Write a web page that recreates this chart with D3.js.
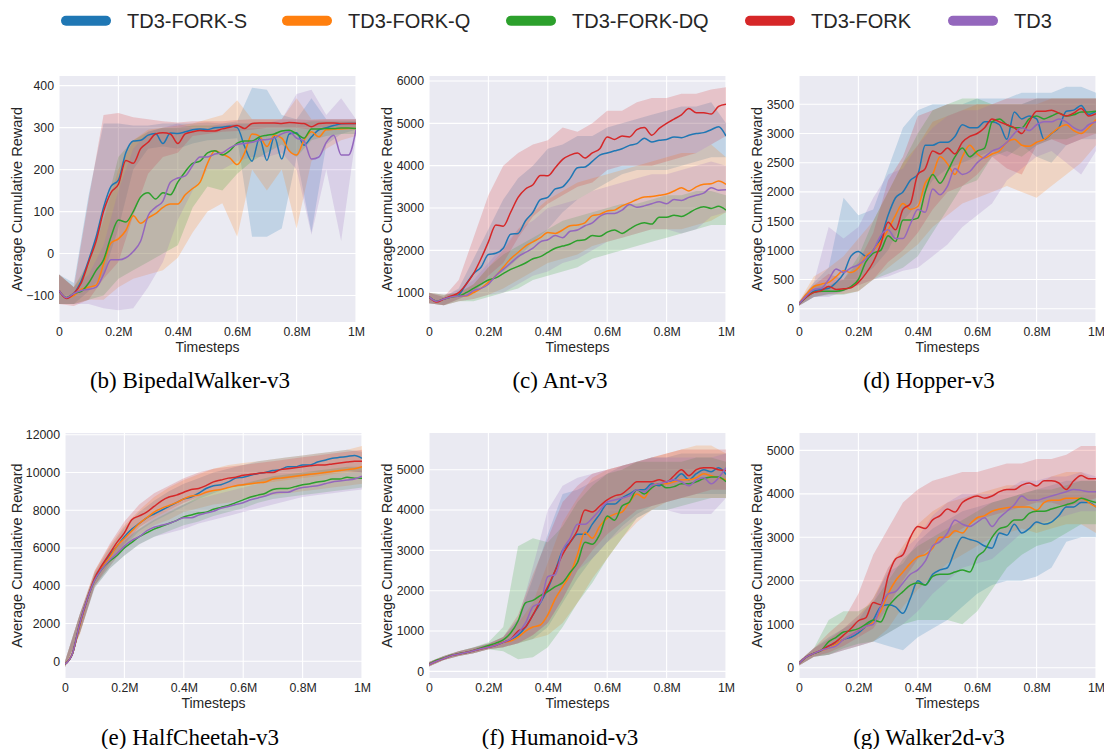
<!DOCTYPE html>
<html>
<head>
<meta charset="utf-8">
<script src="https://cdn.jsdelivr.net/npm/d3@7"></script>
<style>
  body { margin: 0; background: #fff; }
  svg { display: block; }
</style>
</head>
<body>
<svg id="chart" width="1104" height="749"></svg>
<script>
// legend order: TD3-FORK-S, TD3-FORK-Q, TD3-FORK-DQ, TD3-FORK, TD3
const seriesNames = ['TD3-FORK-S', 'TD3-FORK-Q', 'TD3-FORK-DQ', 'TD3-FORK', 'TD3'];
const seriesColors = ['#1f77b4', '#ff7f0e', '#2ca02c', '#d62728', '#9467bd'];

// sample points (in millions of timesteps)
const meanT = [0, 0.025, 0.05, 0.075, 0.1, 0.125, 0.15, 0.175, 0.2, 0.225, 0.25, 0.275, 0.3, 0.325, 0.35, 0.375, 0.4,
  0.425, 0.45, 0.475, 0.5, 0.525, 0.55, 0.575, 0.6, 0.625, 0.65, 0.675, 0.7, 0.725, 0.75, 0.775, 0.8, 0.825, 0.85,
  0.875, 0.9, 0.925, 0.95, 0.975, 1];
const bandT = [0, 0.05, 0.1, 0.15, 0.2, 0.25, 0.3, 0.35, 0.4, 0.45, 0.5, 0.55, 0.6, 0.65, 0.7, 0.75, 0.8, 0.85, 0.9, 0.95, 1];
const xTicks = [0, 0.2, 0.4, 0.6, 0.8, 1];
const xTickLabels = ['0', '0.2M', '0.4M', '0.6M', '0.8M', '1M'];

// BipedalWalker-v3
const bipedalMean = [
  [-90,-105,-95,-65,-15,40,110,160,175,240,268,270,282,286,262,287,286,290,295,297,295,300,301,303,300,255,220,275,222,278,225,285,288,258,278,295,300,305,309,310,310],
  [-88,-105,-100,-85,-80,-75,-25,25,35,55,90,72,85,95,110,118,118,140,155,170,215,245,237,228,212,240,285,280,255,282,275,245,235,270,290,278,295,296,297,298,298],
  [-88,-105,-95,-90,-70,-40,-15,40,80,75,100,135,145,130,145,140,170,195,215,220,240,245,235,245,263,268,268,278,282,285,292,294,285,275,297,297,298,298,299,299,298],
  [-88,-107,-95,-70,-20,30,100,145,165,222,215,250,265,285,288,285,262,285,290,293,292,292,297,301,305,298,310,311,311,311,310,312,311,310,302,310,311,311,310,310,310],
  [-88,-105,-95,-88,-85,-80,-50,-15,-15,-10,5,30,90,110,125,170,180,185,210,230,230,237,240,252,260,262,265,270,272,275,285,290,275,268,225,230,265,282,235,235,295]
];
const bipedalLo = [
  [-120,-120,-90,-50,60,200,250,255,250,262,270,272,275,40,40,60,230,50,260,285,295],
  [-120,-120,-110,-110,-80,-60,-50,-40,-10,50,100,120,40,200,150,200,60,220,250,270,280],
  [-120,-120,-110,-100,-60,-40,-20,0,20,110,160,150,190,220,240,260,230,270,280,285,285],
  [-120,-125,-110,-60,-20,90,190,230,240,280,285,290,292,295,300,300,300,295,300,300,300],
  [-120,-120,-120,-130,-135,-130,-80,-20,80,150,200,200,220,230,230,240,200,45,200,30,280]
];
const bipedalHi = [
  [-50,-70,140,310,310,305,305,310,310,310,312,310,315,395,390,330,320,370,320,320,320],
  [-50,-80,-30,80,200,270,295,300,305,310,320,330,365,320,320,320,370,320,320,320,320],
  [-50,-80,-20,90,230,270,290,300,300,305,305,305,310,310,310,310,310,315,315,315,315],
  [-50,-80,130,330,335,325,320,315,312,315,315,315,318,320,320,320,320,318,320,320,320],
  [-50,-80,-50,20,150,250,290,300,310,300,300,310,310,310,310,320,380,390,330,370,320]
];

// Ant-v3
const antMean = [
  [900,800,850,900,950,1200,1450,1600,1900,1930,2050,2380,2400,2700,2900,3200,3250,3450,3500,3700,3950,3970,4100,4250,4300,4350,4400,4480,4520,4650,4560,4600,4620,4680,4660,4720,4760,4780,4850,4920,4700],
  [900,800,850,900,920,920,1000,1100,1250,1400,1600,1800,1950,2100,2200,2300,2420,2400,2480,2580,2600,2650,2820,2850,2930,2950,3050,3120,3200,3260,3270,3300,3330,3400,3480,3400,3500,3560,3570,3640,3560],
  [900,800,850,900,920,1000,1100,1200,1300,1350,1450,1550,1620,1700,1800,1850,1950,2050,2100,2150,2230,2250,2350,2330,2430,2480,2400,2500,2600,2650,2620,2780,2780,2830,2800,2880,2980,3030,2990,3040,2950],
  [900,780,850,920,1000,1200,1450,1800,2200,2600,2570,2900,3250,3450,3550,3770,3760,3950,4150,4250,4300,4180,4300,4400,4680,4620,4700,4680,4850,4900,4720,4880,5000,5100,5200,5350,5250,5250,5220,5400,5450],
  [900,800,850,900,920,930,1050,1100,1200,1400,1550,1700,1850,1950,2050,2200,2250,2350,2300,2450,2480,2580,2650,2800,2870,2870,2950,3080,3020,3050,3100,3150,3100,3200,3180,3250,3300,3350,3480,3420,3430]
];
const antLo = [
  [750,700,850,1000,1300,1500,1800,2200,2500,2900,3200,3400,3600,3800,3900,3900,3900,4000,4100,4200,4200],
  [750,700,800,850,950,1100,1300,1500,1700,1800,1900,2100,2200,2300,2400,2500,2500,2500,2600,2700,2900],
  [750,700,800,800,900,1000,1100,1300,1400,1500,1600,1800,1900,2000,2100,2200,2300,2400,2500,2600,2600],
  [750,700,850,1000,1400,1700,2300,2800,3100,3300,3500,3600,3900,4000,4000,4000,4100,4200,4300,4500,4700],
  [750,700,800,850,950,1000,1200,1400,1500,1700,1800,2000,2200,2300,2400,2500,2500,2400,2500,2800,2900]
];
const antHi = [
  [1000,900,1100,1800,2500,3200,3700,4000,4400,4500,4700,4700,4900,5000,5100,5200,5300,5400,5400,5500,5000],
  [1000,950,1000,1200,1600,2000,2500,2900,3200,3400,3600,3700,3800,3900,4000,4100,4200,4300,4300,4500,4200],
  [1000,950,1000,1200,1600,1900,2100,2300,2500,2700,2800,2900,3000,3100,3100,3200,3300,3300,3400,3400,3300],
  [1000,900,1300,2300,3300,4000,4300,4500,4600,4900,4800,5000,5300,5300,5500,5600,5600,5700,5700,5800,5850],
  [1000,950,1050,1300,1700,2100,2500,2700,3000,3100,3200,3400,3500,3600,3700,3800,3800,3900,4000,4100,4000]
];

// Hopper-v3
const hopperMean = [
  [80,200,300,330,350,450,600,900,980,900,1000,1200,1600,1900,2000,2200,2300,2800,2800,2850,2850,2950,3150,3100,3100,3200,3200,3150,2900,3370,3250,3300,3250,2900,3000,3100,3380,3400,3480,3330,3380],
  [80,250,380,420,450,550,650,620,700,900,1000,1150,1350,1600,1800,1700,1750,2150,2300,2600,2480,2300,2600,2800,2650,2580,2650,2700,2850,2900,2800,2780,2850,2900,3000,3100,3150,3050,3000,3100,3240],
  [80,200,280,300,300,300,320,380,500,800,950,1000,1250,1150,1520,1520,1550,2000,2300,2150,2350,2600,2750,2600,2700,2750,3200,3250,3150,3100,3100,3250,3300,3250,3300,3350,3300,3320,3370,3370,3380],
  [80,200,280,310,380,330,340,360,450,600,800,1100,1480,1350,1700,1800,2300,2400,2700,2650,2750,2650,2850,2950,3000,3100,3250,3200,3150,3100,3000,3200,3380,3380,3400,3350,3300,3350,3430,3300,3340],
  [80,220,330,350,500,680,620,700,750,850,1000,1250,1350,1200,1200,1450,1700,1650,2050,1950,2100,2400,2300,2350,2500,2600,2700,2750,2850,3000,3100,3050,3150,3200,3200,3250,3200,3100,3050,3150,3200]
];
const hopperLo = [
  [50,200,250,300,500,700,1000,1500,1800,2200,2400,2500,2600,2700,2600,2800,2600,2500,2800,2900,2900],
  [50,250,300,350,400,500,700,900,1100,1400,1600,1800,1900,2000,2100,2000,1900,2100,2300,2500,2800],
  [50,200,230,240,300,500,600,700,900,1300,1700,2100,2200,2600,2700,2600,2800,2900,2900,3000,3000],
  [50,200,250,250,300,500,800,1000,1300,1700,2000,2100,2300,2600,2400,2300,2800,2900,2800,2900,3000],
  [50,200,200,300,400,500,550,650,700,900,1100,1400,1600,1800,2200,2400,2600,2700,2500,2300,2700]
];
const hopperHi = [
  [120,450,700,1900,1600,1700,2400,3100,3400,3500,3500,3500,3600,3600,3600,3700,3700,3700,3800,3800,3700],
  [120,550,700,900,1200,1500,2000,2500,2800,3200,3300,3400,3500,3500,3500,3500,3500,3600,3600,3600,3600],
  [120,400,400,500,900,1500,2000,2500,3000,3400,3500,3600,3600,3500,3500,3500,3600,3600,3600,3600,3600],
  [120,400,600,500,800,1300,2200,2600,3300,3400,3500,3500,3500,3500,3600,3600,3600,3600,3600,3600,3600],
  [120,450,1400,1200,1400,1900,2300,2400,2800,3100,3300,3400,3400,3500,3500,3500,3600,3600,3600,3600,3600]
];

// HalfCheetah-v3
const cheetahMean = [
  [-150,400,2000,3300,4400,5000,5600,6100,6600,7000,7300,7600,7800,8000,8200,8400,8600,8700,8900,9150,9300,9350,9500,9700,9750,9850,9950,10000,10100,10150,10300,10300,10400,10400,10550,10650,10750,10800,10850,10900,10750],
  [-150,400,1900,3300,4400,5000,5500,6100,6500,6900,7300,7600,7900,8100,8250,8400,8600,8750,8800,8950,9050,9100,9200,9300,9350,9400,9450,9500,9650,9700,9750,9800,9850,9900,9950,10000,10050,10100,10150,10200,10300],
  [-150,400,2000,3300,4300,4900,5300,5600,6000,6300,6600,6800,7000,7150,7300,7450,7650,7750,7850,7900,8050,8150,8250,8400,8550,8700,8800,8900,9100,9150,9150,9250,9350,9400,9500,9550,9650,9650,9750,9700,9700],
  [-150,400,2000,3300,4400,5100,5700,6300,6800,7500,7700,7900,8200,8500,8700,8800,8950,9100,9150,9300,9500,9600,9700,9750,9850,9900,9950,10000,10000,10150,10200,10250,10300,10350,10400,10400,10450,10500,10550,10600,10600],
  [-150,400,2000,3300,4300,4900,5350,5700,6100,6400,6600,6900,7100,7200,7300,7450,7600,7600,7750,7850,7950,8100,8200,8300,8400,8550,8650,8750,8900,8950,8950,9100,9200,9250,9300,9400,9500,9550,9600,9650,9800]
];
const cheetahLo = [
  [-300,1500,4000,5000,6100,6900,7400,7800,8200,8600,8900,9200,9300,9500,9600,9700,9800,9900,10000,10100,10000],
  [-300,1400,4000,5000,6000,6700,7200,7500,7900,8100,8300,8400,8600,8700,8800,8900,9000,9100,9200,9300,9400],
  [-300,1500,3900,4900,5600,6200,6600,6900,7200,7400,7700,7900,8100,8400,8600,8700,8800,8900,9000,9100,9200],
  [-300,1500,4000,5200,6200,7100,7600,8000,8400,8700,9000,9200,9300,9400,9500,9600,9700,9800,9900,10000,10000],
  [-300,1500,3900,4900,5600,6200,6600,6800,7000,7300,7500,7700,7900,8100,8300,8500,8700,8800,8900,9000,9100]
];
const cheetahHi = [
  [0,2500,4700,6000,7100,7900,8500,9000,9400,9700,10000,10200,10400,10600,10700,10800,10900,11000,11100,11200,11100],
  [0,2500,4800,6100,7200,8000,8700,9200,9600,9900,10200,10400,10500,10600,10700,10800,10900,11000,11100,11200,11400],
  [0,2500,4600,5700,6400,7000,7500,7900,8300,8700,9000,9200,9400,9600,9800,9900,10000,10100,10200,10300,10300],
  [0,2500,4800,6200,7400,8300,8900,9300,9700,10000,10200,10300,10400,10500,10600,10700,10800,10900,11000,11100,11200],
  [0,2500,4600,5800,6500,7000,7600,8000,8300,8600,8800,9000,9200,9400,9500,9600,9700,9800,9900,10000,10100]
];

// Humanoid-v3
const humanoidMean = [
  [170,250,320,390,430,470,510,560,600,650,720,780,900,1100,1400,1700,2050,2500,3000,3200,3400,3400,3650,3900,4150,4150,4300,4400,4500,4500,4650,4600,4700,4750,4900,4750,4900,5000,4950,5050,4880],
  [170,250,320,390,430,470,510,560,600,650,720,750,850,1000,1100,1150,1400,1800,2100,2400,2900,3450,3300,3600,3800,3900,3950,4200,4400,4300,4600,4650,4650,4700,4750,4750,4800,4900,4850,4800,4750],
  [180,280,330,400,440,470,520,580,640,700,780,950,1250,1700,1760,1880,1980,2100,2200,2450,2700,3200,3150,3400,3850,3750,4100,4200,4500,4400,4550,4650,4550,4580,4650,4650,4700,4780,4820,4820,4700],
  [170,250,320,390,430,470,510,560,600,650,720,800,1000,1100,1400,1750,2100,2500,2900,3200,3500,4000,3950,4100,4250,4350,4400,4550,4700,4700,4700,4750,4700,4850,5000,4850,5000,5050,5050,5000,4980],
  [170,250,320,390,430,470,510,560,600,650,720,800,950,1200,1600,1700,2350,2400,3000,3300,3650,3650,3800,4000,4200,4250,4300,4350,4500,4450,4600,4650,4700,4750,4700,4600,4750,4800,4650,4800,5050]
];
const humanoidLo = [
  [120,280,380,450,550,600,700,800,1100,1700,2300,2800,3200,3600,3900,4100,4200,4300,4400,4400,4400],
  [120,280,380,450,550,600,700,800,900,1200,1700,2300,2800,3300,3700,4000,4200,4300,4300,4300,4300],
  [120,280,380,450,550,500,300,350,600,1100,1700,2200,2800,3300,3800,4000,4000,4100,4200,4300,4300],
  [120,280,380,450,550,600,700,900,1200,1800,2500,3000,3400,3700,4000,4100,4200,4300,4400,4500,4500],
  [120,280,380,450,550,600,700,900,1200,1800,2500,2800,3200,3500,3800,4000,4000,3900,3900,3900,4300]
];
const humanoidHi = [
  [230,380,500,590,690,850,1300,2300,3400,4400,4500,4700,4900,5100,5200,5300,5300,5400,5400,5400,5400],
  [230,380,500,590,690,850,1200,1700,2700,3700,4300,4800,5000,5100,5200,5300,5400,5500,5600,5600,5400],
  [230,380,500,600,720,1100,3100,3300,3200,3600,4200,4600,4900,5000,5200,5200,5200,5200,5300,5300,5200],
  [230,380,500,580,680,850,1400,2400,3300,4200,4600,4900,5000,5100,5200,5300,5400,5500,5500,5500,5500],
  [230,380,500,590,690,850,1300,2600,4000,4600,4800,4900,5000,5100,5200,5300,5300,5300,5300,5300,5400]
];

// Walker2d-v3
const walkerMean = [
  [100,250,330,400,500,550,650,700,800,950,1100,1400,1450,1400,1250,1600,2000,1900,2150,2250,2300,2700,3000,2950,2900,2800,2750,3100,3050,3300,3100,3200,3350,3300,3350,3500,3700,3700,3800,3800,3700],
  [100,250,330,400,450,550,650,750,850,950,1050,1300,1700,2000,2200,2400,2550,2600,2750,3000,3000,3150,3100,3300,3450,3500,3600,3650,3680,3700,3700,3700,3620,3800,3850,3850,3900,3900,3900,3800,3700],
  [100,250,330,400,600,700,820,850,900,1000,1100,1050,1400,1600,1750,1900,1950,1900,2100,2150,2150,2200,2250,2200,2550,2700,3000,3200,3250,3400,3400,3550,3600,3600,3650,3700,3750,3800,3900,3850,3800],
  [100,250,330,400,500,600,750,900,1080,1150,1500,1450,2100,2500,2600,3000,3250,3200,3400,3500,3650,3580,3800,3900,3950,3900,3950,4050,4100,4100,4200,4250,4180,4300,4300,4250,4100,4300,4420,4350,4350],
  [100,250,330,400,450,500,650,750,850,950,1000,1400,1700,1750,1950,2150,2250,2450,2800,2900,3100,3400,3300,3250,3350,3450,3250,3450,3600,3750,3950,3850,3850,3900,3950,4000,4050,4100,4080,4050,4050]
];
const walkerLo = [
  [50,250,300,400,500,600,500,400,700,900,1100,1400,1700,1900,2000,2000,2100,2300,2900,3000,3000],
  [50,250,300,400,500,600,900,1400,1800,2100,2400,2600,2800,3000,3100,3200,3100,3200,3300,3300,3100],
  [50,250,300,450,550,600,800,1000,1100,1100,1100,1000,1300,1800,2300,2600,2800,2900,3100,3300,3300],
  [50,250,350,500,700,900,1400,2000,2500,2800,3000,3200,3400,3500,3600,3700,3800,3800,3700,3800,3900],
  [50,250,300,400,500,600,800,1000,1300,1700,2000,2300,2400,2500,2800,3100,3300,3400,3500,3600,3600]
];
const walkerHi = [
  [150,450,700,900,1100,1600,2200,2400,2900,3200,3400,3600,3700,3800,3900,4000,4100,4200,4300,4300,4300],
  [150,450,650,900,1200,1600,2300,2800,3300,3600,3800,3900,4000,4100,4200,4200,4200,4400,4500,4500,4300],
  [150,450,1100,1300,1300,1500,2000,2500,2800,3000,3200,3400,3600,3800,3900,4000,4100,4100,4200,4300,4300],
  [150,450,800,1100,1700,2600,3200,3800,4100,4300,4400,4500,4500,4600,4700,4700,4800,4800,4900,5100,5100],
  [150,450,650,900,1200,1500,2300,2700,3000,3500,3800,4000,4000,4000,4100,4300,4300,4400,4400,4500,4400]
];

const captions = ['(b) BipedalWalker-v3', '(c) Ant-v3', '(d) Hopper-v3', '(e) HalfCheetah-v3', '(f) Humanoid-v3', '(g) Walker2d-v3'];
const yTickSets = [
  [-100, 0, 100, 200, 300, 400],
  [1000, 2000, 3000, 4000, 5000, 6000],
  [0, 500, 1000, 1500, 2000, 2500, 3000, 3500],
  [0, 2000, 4000, 6000, 8000, 10000, 12000],
  [0, 1000, 2000, 3000, 4000, 5000],
  [0, 1000, 2000, 3000, 4000, 5000]
];
const yLimits = [[-163, 423], [307, 6118], [-228, 3985], [-886, 12090], [-164, 5910], [-237, 5400]];

const panels = [
  { mean: bipedalMean, lo: bipedalLo, hi: bipedalHi },
  { mean: antMean, lo: antLo, hi: antHi },
  { mean: hopperMean, lo: hopperLo, hi: hopperHi },
  { mean: cheetahMean, lo: cheetahLo, hi: cheetahHi },
  { mean: humanoidMean, lo: humanoidLo, hi: humanoidHi },
  { mean: walkerMean, lo: walkerLo, hi: walkerHi }
];

const sansFont = '"Liberation Sans", Arial, Helvetica, sans-serif';
const serifFont = '"Liberation Serif", "Times New Roman", serif';
const textColor = '#262626';

const svg = d3.select('#chart');

// legend across the top
const legendPatch = [[66, 106], [287, 327], [511, 551], [750, 790], [953, 993]];
const legend = svg.append('g');
seriesNames.forEach((name, i) => {
  legend.append('line')
    .attr('x1', legendPatch[i][0]).attr('x2', legendPatch[i][1])
    .attr('y1', 20.7).attr('y2', 20.7)
    .attr('stroke', seriesColors[i])
    .attr('stroke-width', 10)
    .attr('stroke-linecap', 'round');
  legend.append('text')
    .attr('x', legendPatch[i][1] + 21)
    .attr('y', 27.5)
    .attr('font-family', sansFont)
    .attr('font-size', 20)
    .attr('fill', textColor)
    .text(name);
});

const colLeft = [59, 429, 799];
const captionX = [190, 560, 929];

panels.forEach((p, i) => {
  const row = Math.floor(i / 3), col = i % 3;
  const x0 = (row === 1 && col === 0) ? 65 : colLeft[col];
  const x1 = x0 + 297;
  const yTop = row === 0 ? 76 : 433;
  const yBot = row === 0 ? 322 : 678;

  const x = d3.scaleLinear().domain([0, 1]).range([x0, x1]);
  const y = d3.scaleLinear().domain(yLimits[i]).range([yBot, yTop]);

  const g = svg.append('g');
  const clipId = 'clip' + i;
  g.append('clipPath').attr('id', clipId)
    .append('rect').attr('x', x0).attr('y', yTop).attr('width', x1 - x0).attr('height', yBot - yTop);

  g.append('rect')
    .attr('x', x0).attr('y', yTop)
    .attr('width', x1 - x0).attr('height', yBot - yTop)
    .attr('fill', '#eaeaf2');

  // white grid
  g.append('g').selectAll('line').data(yTickSets[i]).join('line')
    .attr('x1', x0).attr('x2', x1)
    .attr('y1', d => y(d)).attr('y2', d => y(d))
    .attr('stroke', '#fff').attr('stroke-width', 1.1);
  g.append('g').selectAll('line').data(xTicks).join('line')
    .attr('x1', d => x(d)).attr('x2', d => x(d))
    .attr('y1', yTop).attr('y2', yBot)
    .attr('stroke', '#fff').attr('stroke-width', 1.1);

  const plot = g.append('g').attr('clip-path', `url(#${clipId})`);

  const area = d3.area()
    .x((d, j) => x(bandT[j]))
    .y0(d => y(d[0]))
    .y1(d => y(d[1]))
    .curve(d3.curveLinear);

  p.lo.forEach((lo, s) => {
    const pts = lo.map((v, j) => [v, p.hi[s][j]]);
    plot.append('path')
      .attr('d', area(pts))
      .attr('fill', seriesColors[s])
      .attr('fill-opacity', 0.2)
      .attr('stroke', 'none');
  });

  const line = d3.line()
    .x((d, j) => x(meanT[j]))
    .y(d => y(d))
    .curve(d3.curveMonotoneX);

  p.mean.forEach((m, s) => {
    plot.append('path')
      .attr('d', line(m))
      .attr('fill', 'none')
      .attr('stroke', seriesColors[s])
      .attr('stroke-width', 1.5);
  });

  // axes
  const yAxis = g.append('g')
    .attr('transform', `translate(${x0},0)`)
    .call(d3.axisLeft(y).tickValues(yTickSets[i]).tickSize(0).tickPadding(5).tickFormat(d3.format('d')));
  const xAxis = g.append('g')
    .attr('transform', `translate(0,${yBot})`)
    .call(d3.axisBottom(x).tickValues(xTicks).tickSize(0).tickPadding(5).tickFormat((d, j) => xTickLabels[j]));
  [yAxis, xAxis].forEach(a => {
    a.select('.domain').remove();
    a.selectAll('text')
      .attr('font-family', sansFont)
      .attr('font-size', 12.3)
      .attr('fill', textColor);
  });

  g.append('text')
    .attr('x', (x0 + x1) / 2)
    .attr('y', yBot + 29.5)
    .attr('text-anchor', 'middle')
    .attr('font-family', sansFont)
    .attr('font-size', 14)
    .attr('fill', textColor)
    .text('Timesteps');

  const labelX = [22, 392, 762][col];
  g.append('text')
    .attr('transform', `translate(${labelX},${(yTop + yBot) / 2}) rotate(-90)`)
    .attr('text-anchor', 'middle')
    .attr('font-family', sansFont)
    .attr('font-size', 14.5)
    .attr('fill', textColor)
    .text('Average Cumulative Reward');

  g.append('text')
    .attr('x', captionX[col])
    .attr('y', row === 0 ? 388 : 745)
    .attr('text-anchor', 'middle')
    .attr('font-family', serifFont)
    .attr('font-size', 23)
    .attr('fill', '#000')
    .text(captions[i]);
});
</script>
</body>
</html>
